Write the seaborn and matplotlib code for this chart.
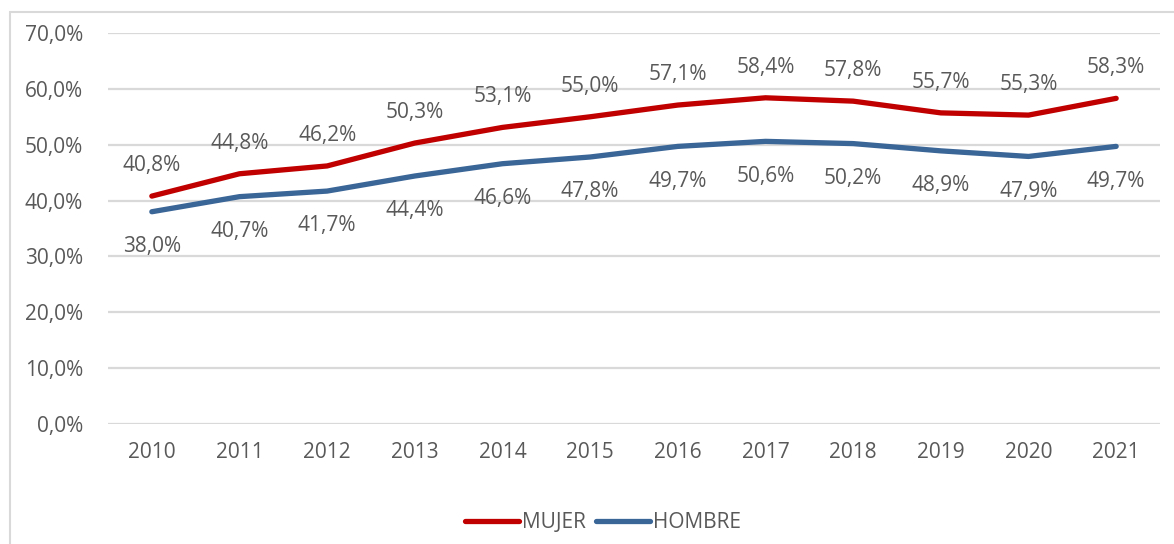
import numpy as np
import pandas as pd
import matplotlib
matplotlib.use("Agg")
import matplotlib.pyplot as plt
import seaborn as sns
from matplotlib.patches import Rectangle

YEARS = [2010, 2011, 2012, 2013, 2014, 2015, 2016, 2017, 2018, 2019, 2020, 2021]
MUJER = [40.8, 44.8, 46.2, 50.3, 53.1, 55.0, 57.1, 58.4, 57.8, 55.7, 55.3, 58.3]
HOMBRE = [38.0, 40.7, 41.7, 44.4, 46.6, 47.8, 49.7, 50.6, 50.2, 48.9, 47.9, 49.7]
Y_TICKS = [0, 10, 20, 30, 40, 50, 60, 70]

COLORS = {"MUJER": "#C00000", "HOMBRE": "#3A6597"}
TEXT = "#595959"
FS = 15

df = pd.DataFrame({
    "year": [str(y) for y in YEARS] * 2,
    "value": MUJER + HOMBRE,
    "serie": ["MUJER"] * len(YEARS) + ["HOMBRE"] * len(YEARS),
})

sns.set_style("white")
plt.rcParams["font.family"] = ["Open Sans", "DejaVu Sans"]

fig = plt.figure(figsize=(11.74, 5.44), dpi=100)
ax = fig.add_axes([108 / 1174, 1 - 424 / 544, (1160 - 108) / 1174, (424 - 33) / 544])

# chart frame (light gray border)
fig.patches.append(Rectangle((10 / 1174, -0.05), 1.2, 1 - 12 / 544 + 0.05,
                             transform=fig.transFigure, fill=False,
                             edgecolor="#D9D9D9", linewidth=1.5))

sns.lineplot(data=df, x="year", y="value", hue="serie", palette=COLORS,
             linewidth=3.8, sort=False, ax=ax, legend=False)
for ln in ax.lines:
    ln.set_solid_capstyle("round")

for i in range(len(YEARS)):
    ax.annotate(f"{MUJER[i]:.1f}%".replace(".", ","), (i, MUJER[i]),
                xytext=(0, 22), textcoords="offset points", ha="center",
                va="center", fontsize=FS, color=TEXT)
    ax.annotate(f"{HOMBRE[i]:.1f}%".replace(".", ","), (i, HOMBRE[i]),
                xytext=(0, -25), textcoords="offset points", ha="center",
                va="center", fontsize=FS, color=TEXT)

ax.set_xlim(-0.5, len(YEARS) - 0.5)
ax.set_ylim(0, 70)
ax.set_yticks(Y_TICKS)
ax.set_yticklabels([f"{t:.1f}%".replace(".", ",") for t in Y_TICKS])
ax.yaxis.grid(True, color="#D9D9D9", linewidth=1.6)
ax.set_axisbelow(True)
for s in ax.spines.values():
    s.set_visible(False)
ax.tick_params(axis="both", length=0, labelsize=FS, labelcolor=TEXT)
ax.tick_params(axis="y", pad=18)
ax.tick_params(axis="x", pad=13)
ax.set_xlabel("")
ax.set_ylabel("")

handles = [plt.Line2D([], [], color=COLORS[k], linewidth=3.8,
                      solid_capstyle="round") for k in ["MUJER", "HOMBRE"]]
fig.legend(handles, ["MUJER", "HOMBRE"], loc="center", ncol=2,
           bbox_to_anchor=(603 / 1174, 1 - 523 / 544), frameon=False,
           handlelength=2.6, handletextpad=0.15, columnspacing=0.5,
           labelcolor=TEXT, prop={"size": FS})

fig.savefig("out.png", dpi=100)
